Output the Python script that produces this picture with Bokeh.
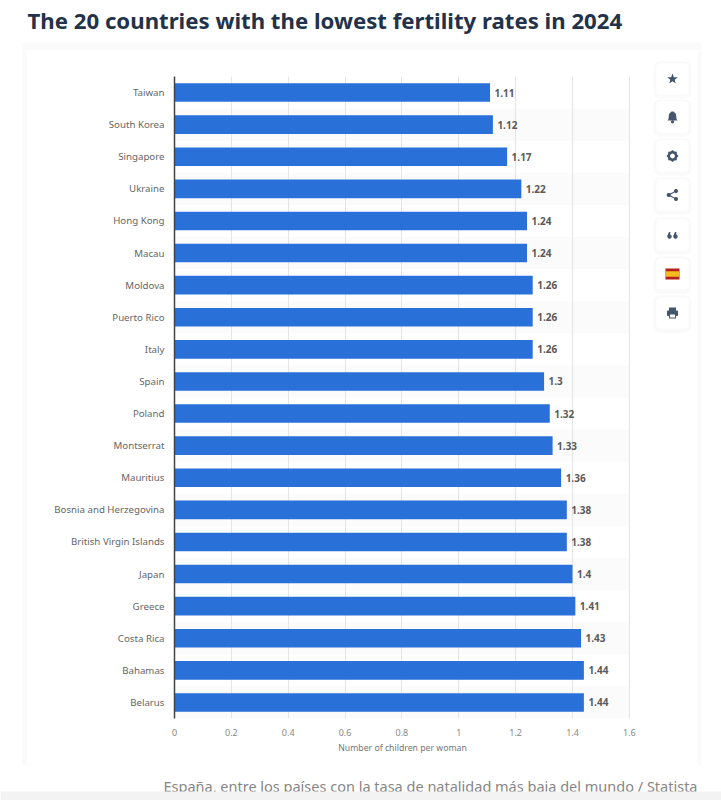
import math
from bokeh.plotting import figure
from bokeh.layouts import column, row
from bokeh.models import BoxAnnotation, PolyAnnotation, Label, FixedTicker, ColumnDataSource, Range1d, FactorRange
from bokeh.core.properties import value
from bokeh.embed import file_html
from bokeh.resources import INLINE

title = "The 20 countries with the lowest fertility rates in 2024"
caption = "España, entre los países con la tasa de natalidad más baja del mundo / Statista"
x_label = "Number of children per woman"
countries = ["Taiwan", "South Korea", "Singapore", "Ukraine", "Hong Kong", "Macau", "Moldova",
             "Puerto Rico", "Italy", "Spain", "Poland", "Montserrat", "Mauritius",
             "Bosnia and Herzegovina", "British Virgin Islands", "Japan", "Greece",
             "Costa Rica", "Bahamas", "Belarus"]
fertility = [1.11, 1.12, 1.17, 1.22, 1.24, 1.24, 1.26, 1.26, 1.26, 1.3, 1.32, 1.33, 1.36,
             1.38, 1.38, 1.4, 1.41, 1.43, 1.44, 1.44]
x_ticks = [0, 0.2, 0.4, 0.6, 0.8, 1, 1.2, 1.4, 1.6]

FONT = "Noto Sans"
EDGE = "#fafafa"


def panel(x0, y0, x1, y1):
    """A figure without axes whose data coordinates are the page's pixels."""
    f = figure(width=x1 - x0, height=y1 - y0, x_range=Range1d(x0, x1), y_range=Range1d(y1, y0),
               x_axis_location=None, y_axis_location=None, output_backend="svg", toolbar_location=None,
               min_border=0, min_border_left=0, min_border_right=0, min_border_top=0, min_border_bottom=0)
    f.outline_line_color = None
    f.grid.visible = False
    f.background_fill_color = "white"
    f.border_fill_color = "white"
    return f


def box(f, l, t, r, b, color, radius=0):
    f.add_layout(BoxAnnotation(left=l, right=r, top=t, bottom=b, fill_color=color, fill_alpha=1,
                               line_color=None, border_radius=radius, editable=False))


def poly(f, pts, color):
    f.add_layout(PolyAnnotation(xs=[x for x, _ in pts], ys=[y for _, y in pts], fill_color=color,
                                fill_alpha=1, line_color=None))


def circle(f, cx, cy, r, color, n=24):
    poly(f, [(cx + r * math.cos(2 * math.pi * i / n), cy + r * math.sin(2 * math.pi * i / n))
             for i in range(n)], color)


# ---- main chart: page x 27..648, y 50..765
p = figure(width=621, height=715, x_range=Range1d(0, 1.604),
           y_range=FactorRange(factors=countries[::-1], range_padding=0),
           output_backend="svg", toolbar_location=None,
           min_border_left=147, min_border_right=18, min_border_top=26, min_border_bottom=47)
p.outline_line_color = None
p.background_fill_color = "white"
p.border_fill_color = "white"

stripe_src = ColumnDataSource(dict(y=countries[1::2], r=[x_ticks[-1]] * len(countries[1::2])))
p.hbar(y="y", left=0, right="r", height=1.0, source=stripe_src, fill_color="#fbfbfb",
       line_color=None, level="image")

p.xgrid.ticker = FixedTicker(ticks=x_ticks)
p.xgrid.grid_line_color = "#e4e4e4"
p.xgrid.grid_line_width = 1
p.ygrid.grid_line_color = None

src = ColumnDataSource(dict(y=countries, v=fertility, t=[str(v) for v in fertility]))
p.hbar(y="y", left=0, right="v", height=0.58, source=src, fill_color="#2a70d9", line_color=None)
p.text(x="v", y="y", text="t", source=src, x_offset=4.5, text_baseline="middle", text_align="left",
       text_font=value(FONT), text_font_size="10px", text_font_style="bold", text_color="#5a5a5a")

xa = p.xaxis[0]
xa.ticker = FixedTicker(ticks=x_ticks)
xa.major_label_overrides = {t: str(t) for t in x_ticks}
xa.axis_line_color = None
xa.major_tick_line_color = None
xa.minor_tick_line_color = None
xa.major_label_text_font = FONT
xa.major_label_text_font_size = "9px"
xa.major_label_text_color = "#888888"
xa.major_label_standoff = 4
xa.axis_label = x_label
xa.axis_label_text_font = FONT
xa.axis_label_text_font_size = "8.7px"
xa.axis_label_text_font_style = "normal"
xa.axis_label_text_color = "#777777"
xa.axis_label_standoff = 3

ya = p.yaxis[0]
ya.axis_line_color = "#444444"
ya.axis_line_width = 1.5
ya.major_tick_line_color = None
ya.minor_tick_line_color = None
ya.major_label_text_font = FONT
ya.major_label_text_font_size = "9.7px"
ya.major_label_text_color = "#666666"
ya.major_label_standoff = 4

# ---- top band with the headline: page y 0..50
top = panel(0, 0, 721, 50)
box(top, 22, 42, 701, 50, EDGE)
top.add_layout(Label(x=27, y=20, text=title, text_font=FONT, text_font_size="22.2px",
                     text_font_style="bold", text_color="#22324a", text_baseline="middle", text_align="left"))

# ---- left edge of the card
left = panel(0, 50, 27, 765)
box(left, 22, 50, 27, 765, EDGE)

# ---- side buttons: page x 648..721
side = panel(648, 50, 721, 765)
box(side, 697, 50, 701, 765, EDGE)
ICON = "#44566c"
tops = [63, 101, 140, 179, 219, 258, 297]
for t in tops:
    box(side, 653, t - 2, 691, t + 35, "#fafafa", radius=6)
    box(side, 656, t, 688, t + 31, "#ffffff", radius=4)
cx = 672
c = tops[0] + 15.5
poly(side, [(cx + (5.5 if i % 2 == 0 else 2.3) * math.sin(i * math.pi / 5),
             c - (5.5 if i % 2 == 0 else 2.3) * math.cos(i * math.pi / 5)) for i in range(10)], ICON)
c = tops[1] + 15.5
poly(side, [(cx - 1, c - 5.5), (cx + 1, c - 5.5), (cx + 3.5, c - 3), (cx + 4, c + 2), (cx + 5, c + 3.5),
            (cx - 5, c + 3.5), (cx - 4, c + 2), (cx - 3.5, c - 3)], ICON)
circle(side, cx, c + 4.8, 1.6, ICON)
c = tops[2] + 15.5
poly(side, [(cx + (6 if i % 2 == 0 else 4.8) * math.cos(i * math.pi / 8),
             c + (6 if i % 2 == 0 else 4.8) * math.sin(i * math.pi / 8)) for i in range(16)], ICON)
circle(side, cx, c, 2.4, "#ffffff")
c = tops[3] + 15.5
circle(side, cx + 3.5, c - 4, 2, ICON)
circle(side, cx + 3.5, c + 4, 2, ICON)
circle(side, cx - 3.8, c, 2, ICON)
poly(side, [(cx - 3.8, c - 0.7), (cx + 3.5, c - 4.6), (cx + 3.5, c - 3.4), (cx - 3.8, c + 0.7)], ICON)
poly(side, [(cx - 3.8, c - 0.7), (cx + 3.5, c + 3.4), (cx + 3.5, c + 4.6), (cx - 3.8, c + 0.7)], ICON)
c = tops[4] + 15.5
for dx in (-3, 3):
    circle(side, cx + dx, c + 1.5, 2.2, ICON)
    poly(side, [(cx + dx - 2.2, c + 1), (cx + dx - 0.5, c - 3), (cx + dx + 1, c - 3), (cx + dx, c + 1)], ICON)
c = tops[5] + 15.5
box(side, cx - 7, c - 5.5, cx + 7, c + 5.5, "#b5201c")
box(side, cx - 7, c - 2.8, cx + 7, c + 2.8, "#f4bc20")
c = tops[6] + 15.5
box(side, cx - 3.5, c - 5.5, cx + 3.5, c - 2, ICON)
box(side, cx - 5.5, c - 2.5, cx + 5.5, c + 3, ICON, radius=1)
box(side, cx - 3.5, c + 1, cx + 3.5, c + 5.5, ICON)
box(side, cx - 2.5, c + 1.5, cx + 2.5, c + 4.5, "#ffffff")

# ---- bottom band with the caption: page y 765..800
bottom = panel(0, 765, 721, 800)
bottom.add_layout(Label(x=697, y=785, text=caption, text_font=FONT, text_font_size="14.5px",
                        text_color="#868686", text_baseline="middle", text_align="right"))
box(bottom, 0, 791, 721, 800, "#f3f3f3")

page = column(top, row(column(left), column(p), column(side)), bottom)
open("out.html", "w").write(file_html(page, INLINE))
